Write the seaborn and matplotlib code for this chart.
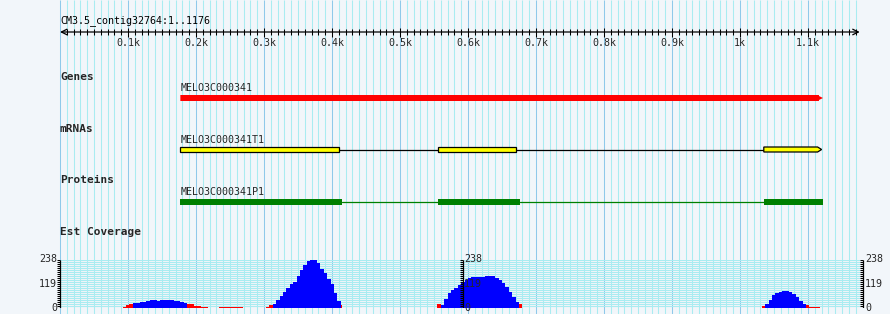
import numpy as np
import pandas as pd
import matplotlib
matplotlib.use("Agg")
import matplotlib.pyplot as plt
from matplotlib.patches import Polygon, Rectangle
import seaborn as sns

# ---------------- data ----------------
contig_name = "CM3.5_contig32764"
contig_length = 1176
ruler_ticks = [100, 200, 300, 400, 500, 600, 700, 800, 900, 1000, 1100]
ruler_labels = ["0.1k", "0.2k", "0.3k", "0.4k", "0.5k", "0.6k", "0.7k",
                "0.8k", "0.9k", "1k", "1.1k"]
track_labels = ["Genes", "mRNAs", "Proteins", "Est Coverage"]

gene_name = "MELO3C000341"
gene_span = (177, 1122)
mrna_name = "MELO3C000341T1"
mrna_exons = [(177, 410), (556, 671), (1035, 1120)]
protein_name = "MELO3C000341P1"
protein_cds = [(177, 414), (556, 676), (1035, 1122)]

coverage_max = 238
coverage_labels = ["238", "119", "0"]
coverage_bin = 5
est_blue_starts = [107, 313, 560, 1037]
est_blue_values = [
    [25, 25, 31, 31, 36, 38, 40, 36, 40, 41, 39, 38, 36, 36, 31, 25],
    [21, 38, 60, 78, 97, 118, 128, 158, 187, 210, 230, 236, 236, 220, 193,
     172, 142, 118, 75, 35],
    [17, 45, 72, 90, 100, 114, 126, 135, 147, 150, 150, 151, 153, 156, 157,
     156, 148, 136, 121, 104, 80, 55, 28],
    [20, 40, 62, 74, 80, 83, 83, 80, 68, 52, 35, 18],
]
est_red_starts = [92, 187, 234, 303, 410, 555, 675, 1032, 1097]
est_red_values = [
    [5, 15, 20],
    [20, 20, 10, 10, 5, 5],
    [5, 5, 5, 5, 5, 5, 5],
    [5, 15],
    [15],
    [20],
    [20],
    [8],
    [13, 5, 5, 5],
]

# ---------------- layout / style ----------------
W, H = 890, 314
PX_PER_BP = 0.68
ORIGIN_PX = 60
BG = "#f2f6fa"
MINOR = "#a9ecf1"
MAJOR = "#8fc9ea"
FONT = "DejaVu Sans Mono"

def px2bp(px):
    return (px - ORIGIN_PX) / PX_PER_BP

sns.set_style("white")
plt.rcParams["font.family"] = [FONT, "DejaVu Sans"]

fig = plt.figure(figsize=(W / 100, H / 100), dpi=100, facecolor=BG)
ax = fig.add_axes([0, 0, 1, 1])
ax.set_facecolor(BG)
ax.set_xlim(px2bp(0), px2bp(W))
ax.set_ylim(H, 0)
ax.axis("off")

# grid lines
grid_pos = np.arange(0, contig_length, 10)
minor_pos = [p for p in grid_pos if p % 100 != 0]
major_pos = [p for p in grid_pos if p % 100 == 0]
ax.vlines(minor_pos, 0, H, colors=MINOR, lw=0.75, zorder=0)
ax.vlines(major_pos, 0, H, colors=MAJOR, lw=0.75, zorder=0)

# title
ax.text(0, 21, f"{contig_name}:1..{contig_length}", fontsize=7.2,
        ha="left", va="center", color="black")

# ruler
ruler_y = 32
ax.annotate("", xy=(0, ruler_y), xytext=(contig_length, ruler_y),
            arrowprops=dict(arrowstyle="<->", color="black", lw=0.9,
                            shrinkA=0, shrinkB=0, mutation_scale=10),
            zorder=3)
ax.vlines(minor_pos, ruler_y - 3, ruler_y + 3, colors="black", lw=0.75, zorder=3)
ax.vlines(ruler_ticks, ruler_y - 4.5, ruler_y + 4.5, colors="black", lw=0.75, zorder=3)
for t, lab in zip(ruler_ticks, ruler_labels):
    ax.text(t, 42.5, lab, fontsize=7.2, ha="center", va="center")

# track labels
label_y = [76.5, 128.5, 180, 232]
for lab, y in zip(track_labels, label_y):
    ax.text(0, y, lab, fontsize=8, fontweight="bold", ha="left", va="center")

tip = 4 / PX_PER_BP

# gene
gy0, gy1 = 95, 101
s, e = gene_span
ax.add_patch(Polygon([(s, gy0), (e - tip, gy0), (e - tip, gy0 + 1), (e, (gy0 + gy1) / 2),
                      (e - tip, gy1 - 1), (e - tip, gy1), (s, gy1)],
                     closed=True, facecolor="#ff0000", edgecolor="none", zorder=4))
ax.text(s, 88, gene_name, fontsize=7.2, ha="left", va="center")

# mRNA
my0, my1 = 147, 152
mc = (my0 + my1) / 2
for (a, b), (c, d) in zip(mrna_exons[:-1], mrna_exons[1:]):
    ax.plot([b, c], [mc, mc], color="black", lw=0.9, zorder=3)
for i, (a, b) in enumerate(mrna_exons):
    if i == len(mrna_exons) - 1:
        pts = [(a, my0), (b - tip, my0), (b, mc), (b - tip, my1), (a, my1)]
    else:
        pts = [(a, my0), (b, my0), (b, my1), (a, my1)]
    ax.add_patch(Polygon(pts, closed=True, facecolor="#ffff00",
                         edgecolor="black", lw=0.9, zorder=4))
ax.text(mrna_exons[0][0], 140, mrna_name, fontsize=7.2, ha="left", va="center")

# protein
py0, py1 = 199, 205
pc = (py0 + py1) / 2
for (a, b), (c, d) in zip(protein_cds[:-1], protein_cds[1:]):
    ax.plot([b, c], [pc, pc], color="#008000", lw=0.9, zorder=3)
for a, b in protein_cds:
    ax.add_patch(Rectangle((a, py0), b - a, py1 - py0, facecolor="#008000",
                           edgecolor="none", zorder=4))
ax.text(protein_cds[0][0], 192, protein_name, fontsize=7.2, ha="left", va="center")

# coverage panel
cov_top, cov_bot = 259.5, 308
cax = fig.add_axes([0, (H - cov_bot) / H, 1, (cov_bot - cov_top) / H])
cax.patch.set_alpha(0)

levels = np.linspace(0, coverage_max, 25)
cax.hlines(levels, 0, contig_length, colors=MINOR, lw=0.75, zorder=0)

for starts, values, col in [(est_red_starts, est_red_values, "#ff0000"),
                            (est_blue_starts, est_blue_values, "#0000ff")]:
    for st, vals in zip(starts, values):
        edges = [st + coverage_bin * k for k in range(len(vals) + 1)]
        df = pd.DataFrame({"pos": [x + coverage_bin / 2 for x in edges[:-1]],
                           "depth": vals})
        sns.histplot(data=df, x="pos", weights="depth", bins=edges,
                     element="step", fill=True, color=col, alpha=1,
                     linewidth=0, ax=cax, zorder=2)

cax.set_xlim(px2bp(0), px2bp(W))
cax.set_ylim(0, coverage_max)
cax.axis("off")

tick_len = 3 / PX_PER_BP
scales = [(px2bp(60), "right", px2bp(57)),
          (px2bp(462.5), "left", px2bp(464)),
          (px2bp(863), "left", px2bp(865))]
lab_vals = [coverage_max, coverage_max / 2, 0]
for sx, ha, lx in scales:
    cax.vlines([sx], 0, coverage_max, colors="black", lw=0.9, zorder=5)
    cax.hlines(levels, sx - tick_len, sx, colors="black", lw=0.75, zorder=5)
    for v, lab in zip(lab_vals, coverage_labels):
        cax.text(lx, v, lab, fontsize=7.2, ha=ha, va="center", zorder=6,
                 clip_on=False)

fig.savefig("out.png", dpi=100, facecolor=BG)
